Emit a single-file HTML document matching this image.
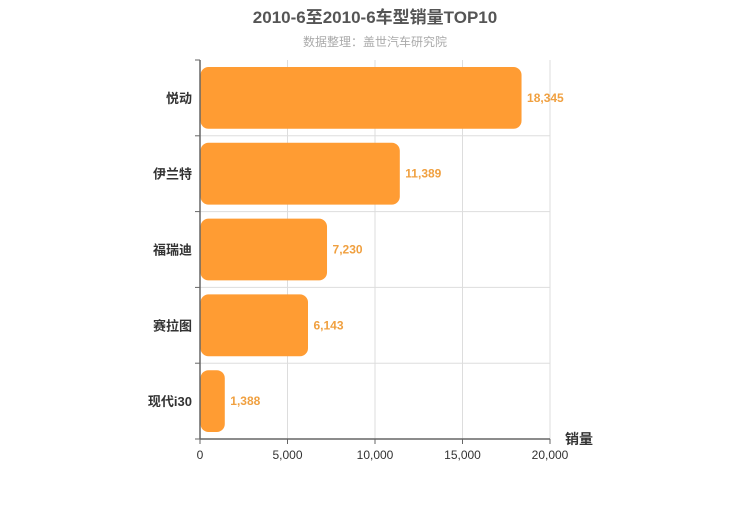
<!DOCTYPE html>
<html><head><meta charset="utf-8"><style>
body{margin:0;background:#fff;width:750px;height:500px;overflow:hidden}
svg text{font-family:"Liberation Sans","Noto Sans CJK SC",sans-serif}
</style></head><body>
<svg id="chart" width="750" height="500">
<text x="375" y="23" text-anchor="middle" font-size="17" font-weight="bold" fill="#555">2010-6至2010-6车型销量TOP10</text>
<text x="375" y="46" text-anchor="middle" font-size="12" fill="#aaa">数据整理：盖世汽车研究院</text>
<g id="grid"></g><g id="bars"></g><g id="axes"></g>
<text x="565" y="444" font-size="14" font-weight="bold" fill="#333">销量</text>
</svg>
<script>
const categories=["悦动","伊兰特","福瑞迪","赛拉图","现代i30"];
const values=[18345,11389,7230,6143,1388];
const xTicks=[0,5000,10000,15000,20000];
const NS="http://www.w3.org/2000/svg";
const X0=200,X1=550,Y0=60,Y1=439,xMax=20000;
const xs=v=>X0+(X1-X0)*v/xMax;
const band=(Y1-Y0)/categories.length;
const ys=i=>Y0+band*i;
function mk(p,t,a,txt){const e=document.createElementNS(NS,t);for(const k in a)e.setAttribute(k,a[k]);if(txt!=null)e.textContent=txt;p.appendChild(e);return e;}
const grid=document.getElementById('grid'),bars=document.getElementById('bars'),axes=document.getElementById('axes');
xTicks.forEach(t=>{
 const l=mk(grid,'line',{x1:xs(t),x2:xs(t),y1:Y0,y2:Y1,stroke:'#ddd'});
 
 
 const tk=mk(axes,'line',{x1:xs(t),x2:xs(t),y1:Y1,y2:Y1+5,stroke:'#666'});
 
 
 const tx=mk(axes,'text',{x:xs(t),y:Y1+20,'text-anchor':'middle','font-size':12,fill:'#333'},t.toLocaleString('en-US'));
 
 
});
for(let i=0;i<=categories.length;i++){
 if(i>0&&i<categories.length){const g=mk(grid,'line',{x1:X0,x2:X1,y1:ys(i),y2:ys(i),stroke:'#ddd'});
 
 }
 const tk=mk(axes,'line',{x1:X0-5,x2:X0,y1:ys(i),y2:ys(i),stroke:'#666'});
 
 
}
mk(grid,'line',{x1:X1,x2:X1,y1:Y0,y2:Y1,stroke:'#ddd'});
const ya=mk(axes,'line',{x1:X0,x2:X0,y1:Y0,y2:Y1,stroke:'#666','stroke-width':1.5});


const xa=mk(axes,'line',{x1:X0,x2:X1,y1:Y1,y2:Y1,stroke:'#666','stroke-width':1.5});


categories.forEach((c,i)=>{
 const top=ys(i)+7,h=band-14,w=xs(values[i])-X0;
 const r=mk(bars,'rect',{x:X0+0.5,y:top,width:w,height:h,rx:8,ry:8,fill:'#ff9c33'});
 
 
 const v=mk(bars,'text',{x:X0+w+6,y:top+h/2+4,'font-size':12,'font-weight':'bold',fill:'#f0a040'},values[i].toLocaleString('en-US'));
 
 
 const l=mk(axes,'text',{x:X0-8,y:ys(i)+band/2+5,'text-anchor':'end','font-size':13,'font-weight':'bold',fill:'#333'},c);
 
 
});
</script>
</body></html>
